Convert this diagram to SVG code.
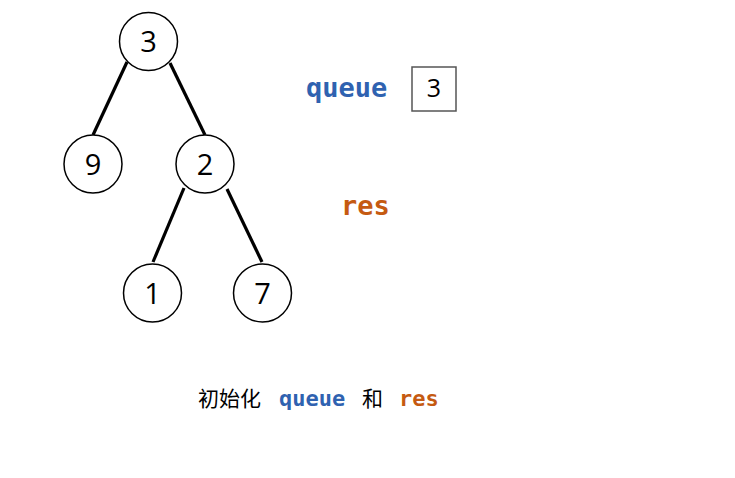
<svg xmlns="http://www.w3.org/2000/svg" width="735" height="478" viewBox="0 0 735 478">
<style>
.node circle{fill:#fff;stroke:#000;stroke-width:1.5}
.node text{font-family:"Open Sans","Liberation Sans",sans-serif;font-size:29px;text-anchor:middle;fill:#000}
.edges line{stroke:#000;stroke-width:3.2;stroke-linecap:butt}
.code{font-family:"DejaVu Sans Mono","Liberation Mono",monospace;font-weight:bold}
.blue{fill:#2f62b0}
.orange{fill:#c55a11}
.cjk{font-family:"Noto Sans CJK SC","Noto Sans",sans-serif;font-size:21px;fill:#000}
</style>
<rect width="735" height="478" fill="#fff"/>
<g class="edges">
<line x1="127" y1="62" x2="93" y2="135"/>
<line x1="170" y1="63" x2="205" y2="135"/>
<line x1="184" y1="188" x2="153" y2="262"/>
<line x1="227" y1="189" x2="262" y2="262"/>
</g>
<g id="n3" class="node"><circle cx="148.5" cy="41.5" r="29"/><text x="148.5" y="52">3</text></g>
<g id="n9" class="node"><circle cx="93" cy="164" r="29"/><text x="93" y="174.5">9</text></g>
<g id="n2" class="node"><circle cx="205" cy="164" r="29"/><text x="205" y="174.5">2</text></g>
<g id="n1" class="node"><circle cx="152.5" cy="293" r="29"/><text x="152.5" y="303.5">1</text></g>
<g id="n7" class="node"><circle cx="262.5" cy="293" r="29"/><text x="262.5" y="303.5">7</text></g>
<g id="queue">
<text x="306" y="97" class="code blue" font-size="27">queue</text>
<rect x="412" y="67" width="44" height="44" fill="#fff" stroke="#555" stroke-width="1.5"/>
<text x="434" y="97" font-family="Open Sans,Liberation Sans,sans-serif" font-size="25" text-anchor="middle">3</text>
</g>
<g id="res">
<text x="341" y="215" class="code orange" font-size="27">res</text>
</g>
<g id="caption">
<text x="198" y="406" class="cjk">初始化</text>
<text x="279" y="406" class="code blue" font-size="22">queue</text>
<text x="362" y="406" class="cjk">和</text>
<text x="399" y="406" class="code orange" font-size="22">res</text>
</g>
</svg>
